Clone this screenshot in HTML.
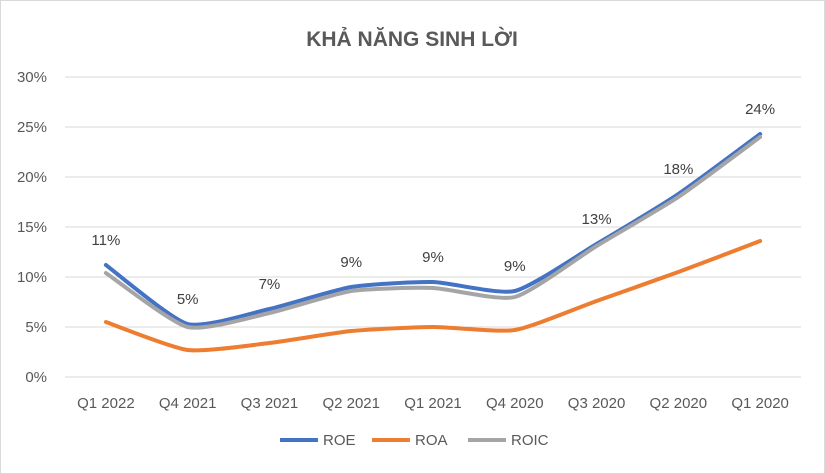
<!DOCTYPE html>
<html><head><meta charset="utf-8">
<style>
html,body{margin:0;padding:0;background:#fff;}
svg{display:block;font-family:"Liberation Sans",Calibri,sans-serif;}
</style></head>
<body>
<svg id="chart" width="825" height="474" viewBox="0 0 825 474">
<rect x="0.5" y="0.5" width="824" height="473" fill="#fff" stroke="#d9d9d9"/>
<text x="412" y="46" text-anchor="middle" font-size="21" font-weight="bold" fill="#595959">KHẢ NĂNG SINH LỜI</text>
<g id="grid"></g><g id="series"></g><g id="labels"></g>
<g>
<line x1="280" y1="440" x2="318" y2="440" stroke="#4472c4" stroke-width="4"/>
<text x="323" y="445" font-size="15" fill="#595959">ROE</text>
<line x1="372" y1="440" x2="410" y2="440" stroke="#ed7d31" stroke-width="4"/>
<text x="415" y="445" font-size="15" fill="#595959">ROA</text>
<line x1="468" y1="440" x2="506" y2="440" stroke="#a5a5a5" stroke-width="4"/>
<text x="511" y="445" font-size="15" fill="#595959">ROIC</text>
</g>
</svg>
<script>
const categories = ["Q1 2022","Q4 2021","Q3 2021","Q2 2021","Q1 2021","Q4 2020","Q3 2020","Q2 2020","Q1 2020"];
const roe = [11.2,5.3,6.8,9.0,9.5,8.6,13.3,18.3,24.3];
const roa = [5.5,2.7,3.4,4.6,5.0,4.7,7.6,10.5,13.6];
const roic = [10.4,5.0,6.4,8.6,8.9,8.0,13.1,18.0,24.0];
const roeLabels = ["11%","5%","7%","9%","9%","9%","13%","18%","24%"];
const yTicks = [0,5,10,15,20,25,30];

const NS="http://www.w3.org/2000/svg";
const plotL=65, plotR=801, y0=377, yTop=77, yMax=30;
const step=(plotR-plotL)/categories.length;
const xS=i=>plotL+step*(i+0.5);
const yS=v=>y0-(v/yMax)*(y0-yTop);
function mk(tag,attrs,parent){const e=document.createElementNS(NS,tag);for(const k in attrs)e.setAttribute(k,attrs[k]);parent.appendChild(e);return e;}
const grid=document.getElementById('grid');
yTicks.forEach(t=>{
  const l=mk('line',{x1:plotL,x2:plotR,y1:yS(t),y2:yS(t),stroke:'#d9d9d9','stroke-width':1},grid);
  
  
  const tx=mk('text',{x:47,y:yS(t)+5,'text-anchor':'end','font-size':15,fill:'#595959'},grid);
  tx.textContent=t+'%';
  
  
});
categories.forEach((c,i)=>{
  const tx=mk('text',{x:xS(i),y:408,'text-anchor':'middle','font-size':15,fill:'#595959'},grid);
  tx.textContent=c;
  
  
});
function smooth(vals){
  const p=vals.map((v,i)=>[xS(i),yS(v)]);
  let d='M'+p[0][0]+','+p[0][1];
  for(let i=0;i<p.length-1;i++){
    const a=p[Math.max(0,i-1)],b=p[i],c=p[i+1],e=p[Math.min(p.length-1,i+2)];
    const t=0.1;
    d+=' C'+(b[0]+(c[0]-a[0])*t)+','+(b[1]+(c[1]-a[1])*t)+' '+(c[0]-(e[0]-b[0])*t)+','+(c[1]-(e[1]-b[1])*t)+' '+c[0]+','+c[1];
  }
  return d;
}
const ser=document.getElementById('series');
[[roa,'#ed7d31','roa-line'],[roe,'#4472c4','roe-line'],[roic,'#a5a5a5','roic-line']].forEach(([vals,col,name])=>{
  const p=mk('path',{d:smooth(vals),fill:'none',stroke:col,'stroke-width':4,'stroke-linejoin':'round','stroke-linecap':'round'},ser);
  
  
});
const lab=document.getElementById('labels');
roe.forEach((v,i)=>{
  const tx=mk('text',{x:xS(i),y:yS(v)-20,'text-anchor':'middle','font-size':15,fill:'#404040'},lab);
  tx.textContent=roeLabels[i];
  
  
});
</script>
</body></html>
